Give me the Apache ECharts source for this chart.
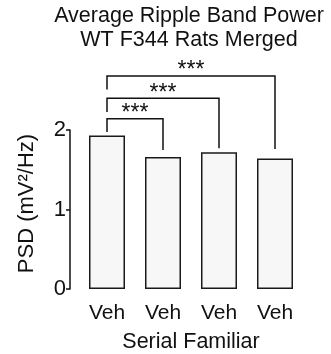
<!DOCTYPE html>
<html>
<head>
<meta charset="utf-8">
<script src="https://cdn.jsdelivr.net/npm/echarts@6/dist/echarts.min.js"></script>
<style>
html,body{margin:0;padding:0;background:#fff;}
#chart{width:331px;height:354px;}
</style>
</head>
<body>
<div id="chart"></div>
<script>
var categories = ['Veh', 'Veh', 'Veh', 'Veh'];
var psdValues = [1.93, 1.66, 1.72, 1.64];
var yTicks = [0, 1, 2];
var titleLines = ['Average Ripple Band Power', 'WT F344 Rats Merged'];
// significance brackets
var sigFrom = [0, 0, 0];
var sigTo = [1, 2, 3];
var sigTop = [2.14, 2.40, 2.68];
var sigLeftEnd = [1.975, 2.225, 2.51];
var sigRightEnd = [1.75, 1.77, 1.76];
var sigLabels = ['***', '***', '***'];

var FONT = '"Liberation Sans", Arial, Helvetica, sans-serif';
var sigData = sigFrom.map(function (f, i) {
  return [f, sigTo[i], sigTop[i], sigLeftEnd[i], sigRightEnd[i], i];
});

var chart = echarts.init(document.getElementById('chart'), null, {renderer: 'canvas'});
chart.setOption({
  animation: false,
  backgroundColor: '#fff',
  graphic: [{
    type: 'text',
    x: 189,
    y: 4,
    style: {
      text: titleLines.join('\n'),
      fontFamily: FONT,
      fontSize: 21.5,
      lineHeight: 24,
      fill: '#111',
      align: 'center',
      verticalAlign: 'top'
    }
  }],
  grid: {left: 79, right: 28, top: 130, bottom: 64, containLabel: false},
  xAxis: {
    type: 'category',
    data: categories,
    axisLine: {show: false},
    axisTick: {show: false},
    axisLabel: {fontFamily: FONT, fontSize: 21, color: '#111', margin: 14},
    name: 'Serial Familiar',
    nameLocation: 'middle',
    nameGap: 42,
    nameTextStyle: {fontFamily: FONT, fontSize: 21.5, color: '#111'}
  },
  yAxis: {
    type: 'value',
    min: yTicks[0],
    max: yTicks[yTicks.length - 1],
    interval: 1,
    offset: 9,
    axisLine: {show: true, lineStyle: {color: '#111', width: 1.5}},
    axisTick: {show: true, length: 4, lineStyle: {color: '#111', width: 1.5}},
    axisLabel: {fontFamily: FONT, fontSize: 22, color: '#111', margin: 4},
    splitLine: {show: false},
    name: 'PSD (mV²/Hz)',
    nameLocation: 'middle',
    nameGap: 32,
    nameTextStyle: {fontFamily: FONT, fontSize: 22, color: '#111', padding: [0, 0, 0, 12]}
  },
  series: [
    {
      type: 'bar',
      data: psdValues,
      barWidth: 36,
      itemStyle: {color: '#f7f7f7', borderColor: '#1a1a1a', borderWidth: 1.5}
    },
    {
      type: 'custom',
      clip: false,
      silent: true,
      data: sigData,
      encode: {x: 0, y: 2},
      renderItem: function (params, api) {
        var f = api.value(0), t = api.value(1);
        var top = api.value(2), le = api.value(3), re = api.value(4);
        var idx = api.value(5);
        var pLB = api.coord([f, le]);
        var pLT = api.coord([f, top]);
        var pRT = api.coord([t, top]);
        var pRB = api.coord([t, re]);
        return {
          type: 'group',
          children: [
            {
              type: 'polyline',
              shape: {points: [pLB, pLT, pRT, pRB]},
              style: {stroke: '#111', lineWidth: 1.5, fill: null}
            },
            {
              type: 'text',
              x: (pLT[0] + pRT[0]) / 2,
              y: pLT[1] - 5,
              style: {
                text: sigLabels[idx],
                fontFamily: FONT,
                fontSize: 23,
                fill: '#111',
                align: 'center',
                verticalAlign: 'middle'
              }
            }
          ]
        };
      }
    }
  ]
});
</script>
</body>
</html>
